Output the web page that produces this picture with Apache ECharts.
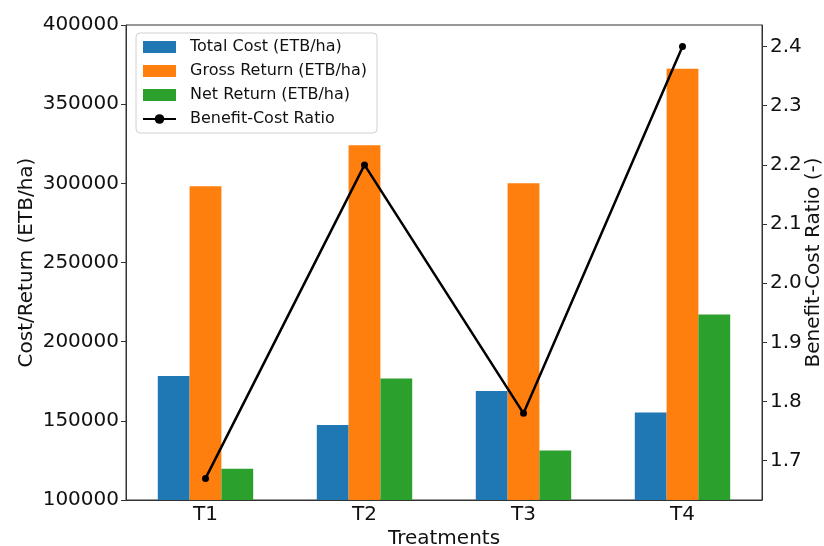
<!DOCTYPE html>
<html>
<head>
<meta charset="utf-8">
<script src="https://cdn.jsdelivr.net/npm/echarts@6/dist/echarts.min.js"></script>
<style>
  html, body { margin: 0; padding: 0; background: #fff; }
  #chart { width: 824px; height: 546px; }
</style>
</head>
<body>
<div id="chart"></div>
<script>
// Economic comparison of treatments
const treatments = ['T1', 'T2', 'T3', 'T4'];
const totalCost = [178300, 147400, 168900, 155200];
const grossReturn = [298200, 324100, 300100, 372300];
const netReturn = [119800, 176700, 131200, 217100];
const benefitCostRatio = [1.67, 2.20, 1.78, 2.40];
const ratioTicks = [1.7, 1.8, 1.9, 2.0, 2.1, 2.2, 2.3, 2.4];

const FONT = 'DejaVu Sans';
const AXIS_COLOR = '#333';

const chart = echarts.init(document.getElementById('chart'), null, { renderer: 'canvas' });

const barSeries = (name, data, color) => ({
  name: name,
  type: 'bar',
  data: data,
  barWidth: '20%',
  barGap: '0%',
  itemStyle: { color: color },
  emphasis: { disabled: true }
});

chart.setOption({
  animation: false,
  textStyle: { fontFamily: FONT },
  grid: {
    left: 126, right: 62, top: 25, bottom: 46,
    outerBoundsMode: 'none',
    containLabel: false,
    show: true, borderColor: AXIS_COLOR, borderWidth: 1, backgroundColor: 'transparent'
  },
  legend: {
    left: 136, top: 33,
    orient: 'vertical',
    itemWidth: 33, itemHeight: 12,
    itemGap: 8,
    padding: [6, 10, 6, 6],
    borderColor: '#d0d0d0', borderWidth: 1, borderRadius: 4,
    backgroundColor: 'rgba(255,255,255,0.85)',
    textStyle: { fontFamily: FONT, fontSize: 16, color: '#111', lineHeight: 16, padding: [0, 0, 0, 9] },
    data: [
      { name: 'Total Cost (ETB/ha)', icon: 'rect' },
      { name: 'Gross Return (ETB/ha)', icon: 'rect' },
      { name: 'Net Return (ETB/ha)', icon: 'rect' },
      { name: 'Benefit-Cost Ratio' }
    ]
  },
  xAxis: {
    type: 'category',
    data: treatments,
    name: 'Treatments',
    nameLocation: 'middle',
    nameGap: 29,
    nameMoveOverlap: false,
    nameTextStyle: { fontFamily: FONT, fontSize: 20, color: '#111' },
    axisLine: { lineStyle: { color: AXIS_COLOR, width: 1 } },
    axisTick: { alignWithLabel: true, length: 5, lineStyle: { color: AXIS_COLOR } },
    axisLabel: { fontFamily: FONT, fontSize: 20, color: '#111', margin: 5 }
  },
  yAxis: [
    {
      type: 'value',
      min: 100000, max: 400000, interval: 50000,
      name: 'Cost/Return (ETB/ha)',
      nameLocation: 'middle',
      nameGap: 89,
      nameMoveOverlap: false,
      nameTextStyle: { fontFamily: FONT, fontSize: 20, color: '#111' },
      axisLine: { show: true, lineStyle: { color: AXIS_COLOR, width: 1 } },
      axisTick: { show: true, length: 5, lineStyle: { color: AXIS_COLOR } },
      axisLabel: { fontFamily: FONT, fontSize: 20, color: '#111', margin: 7, formatter: v => String(v) },
      splitLine: { show: false }
    },
    {
      type: 'value',
      min: 1.6335, max: 2.4365,
      position: 'right',
      name: 'Benefit-Cost Ratio (-)',
      nameLocation: 'middle',
      nameGap: 42,
      nameMoveOverlap: false,
      nameTextStyle: { fontFamily: FONT, fontSize: 20, color: '#111' },
      axisLine: { show: true, lineStyle: { color: AXIS_COLOR, width: 1 } },
      axisTick: { show: true, length: 5, lineStyle: { color: AXIS_COLOR }, customValues: ratioTicks },
      axisLabel: {
        fontFamily: FONT, fontSize: 20, color: '#111', margin: 8,
        customValues: ratioTicks,
        formatter: v => v.toFixed(1)
      },
      splitLine: { show: false }
    }
  ],
  series: [
    barSeries('Total Cost (ETB/ha)', totalCost, '#1f77b4'),
    barSeries('Gross Return (ETB/ha)', grossReturn, '#ff7f0e'),
    barSeries('Net Return (ETB/ha)', netReturn, '#2ca02c'),
    {
      name: 'Benefit-Cost Ratio',
      type: 'line',
      yAxisIndex: 1,
      data: benefitCostRatio,
      symbol: 'circle',
      symbolSize: 7,
      lineStyle: { color: '#000', width: 2.5 },
      itemStyle: { color: '#000' },
      emphasis: { disabled: true },
      z: 5
    }
  ]
});
</script>
</body>
</html>
